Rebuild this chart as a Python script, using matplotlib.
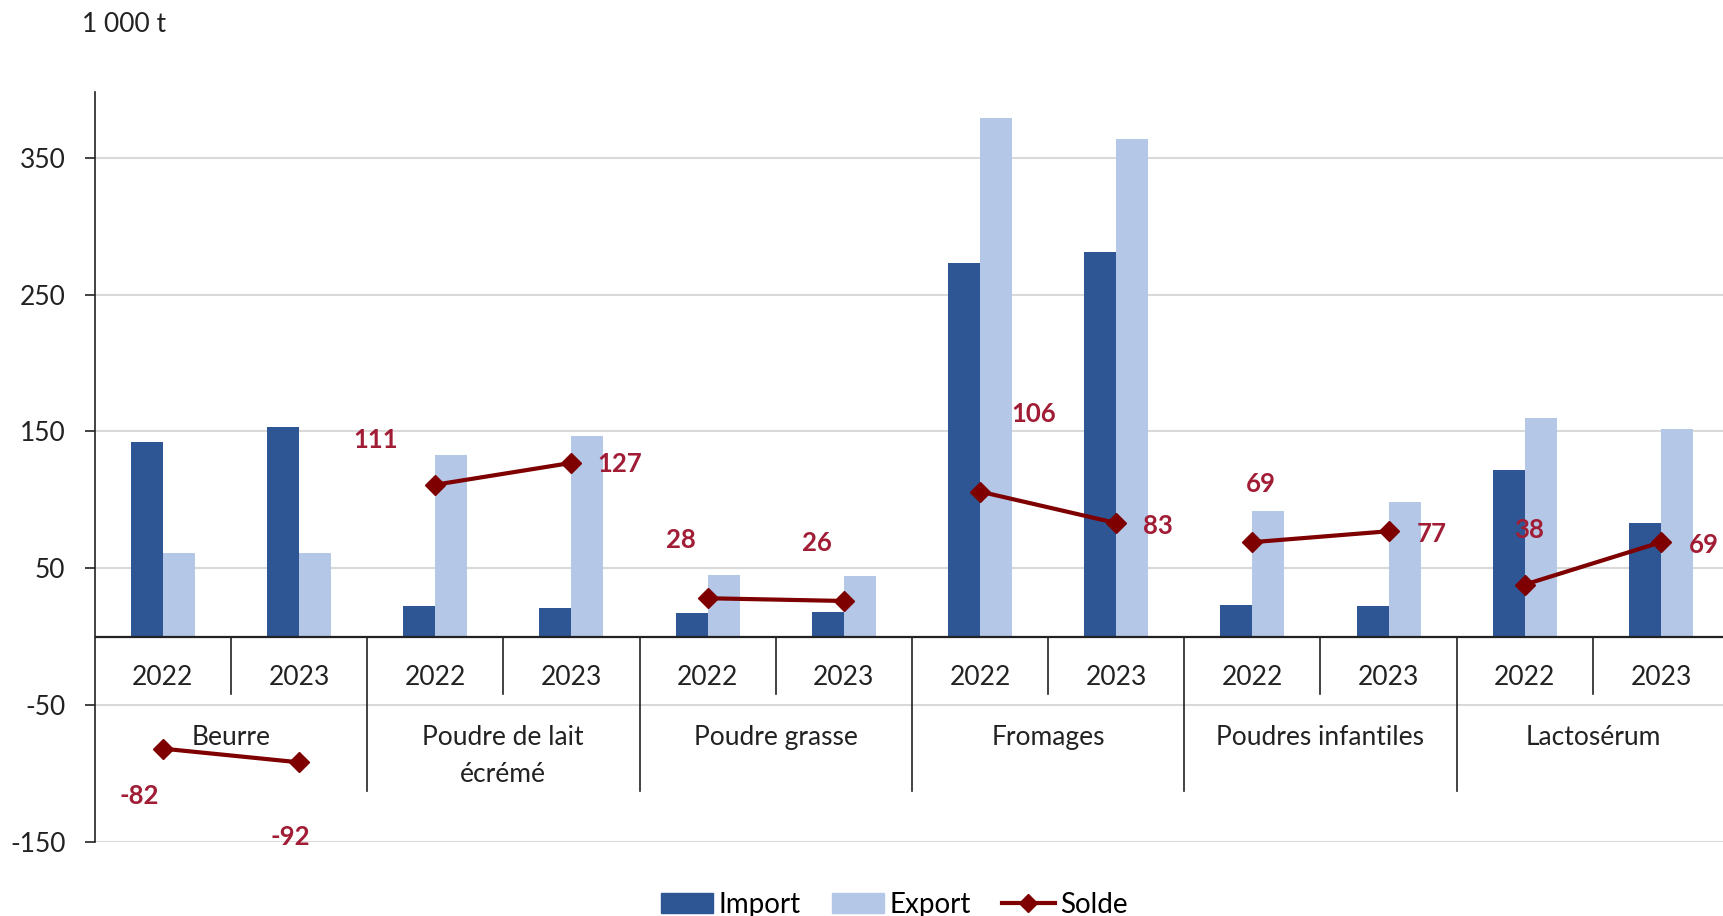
import matplotlib.pyplot as plt
import numpy as np
from matplotlib.patches import Patch
from matplotlib.lines import Line2D

# --------------------------------------------------
# Data (1 000 t)
# --------------------------------------------------
categories = ['Beurre', 'Poudre de lait\nécrémé', 'Poudre grasse',
              'Fromages', 'Poudres infantiles', 'Lactosérum']
years = ['2022', '2023']

imports = [142.5, 153, 22.5, 20.5, 17, 18, 273, 281, 23, 22, 122, 83]
exports = [61, 61, 133, 146.5, 45, 44, 379, 364, 91.5, 98.5, 160, 151.5]
solde   = [-82, -92, 111, 127, 28, 26, 106, 83, 69, 77, 38, 69]

# label offsets for the solde values (points)
label_offsets = [(-17, -34), (-6, -54), (-43, 32), (35, -1),
                 (-19, 42), (-19, 42), (39, 56), (30, -2),
                 (6, 42), (31, -2), (3, 39), (31, -2)]

# --------------------------------------------------
# Colours / fonts
# --------------------------------------------------
c_import = '#2E5594'
c_export = '#B4C7E7'
c_solde = '#7F0000'
c_label = '#A11D36'
grid_col = '#D9D9D9'

plt.rcParams['font.family'] = ['Lato', 'DejaVu Sans']
plt.rcParams['axes.unicode_minus'] = False
fs = 19

# --------------------------------------------------
# Figure setup
# --------------------------------------------------
fig = plt.figure(figsize=(17.23, 9.16), dpi=100)
ax = fig.add_axes([94.7 / 1723, 0.0812, (1729.1 - 94.7) / 1723, 0.818])

x = np.arange(len(imports))
bw = 0.235

ax.bar(x - bw / 2, imports, width=bw, color=c_import, zorder=3)
ax.bar(x + bw / 2, exports, width=bw, color=c_export, zorder=3)

# solde line, one segment per product
for k in range(len(categories)):
    xs = x[2 * k:2 * k + 2]
    ys = solde[2 * k:2 * k + 2]
    ax.plot(xs, ys, color=c_solde, lw=3, marker='D', markersize=10,
            zorder=5, clip_on=False)

for xi, v, off in zip(x, solde, label_offsets):
    ax.annotate(f'{v}', xy=(xi, v), xytext=off, textcoords='offset points',
                ha='center', va='center', color=c_label, fontsize=fs - 0.5,
                fontweight='bold', zorder=6, annotation_clip=False)

# --------------------------------------------------
# Axes, grid
# --------------------------------------------------
ax.set_xlim(-0.5, 11.5)
ax.set_ylim(-150, 398)
ax.set_yticks([-150, -50, 50, 150, 250, 350])
ax.tick_params(axis='y', labelsize=fs, length=7, width=1.2, pad=14,
               colors='#222222')
ax.set_xticks([])
ax.grid(axis='y', color=grid_col, lw=1.5, zorder=0)

for s in ['top', 'right', 'bottom']:
    ax.spines[s].set_visible(False)
ax.spines['left'].set_linewidth(1.2)
ax.spines['left'].set_color('#222222')

ax.axhline(0, color='#222222', lw=1.6, zorder=4)

# --------------------------------------------------
# Category axis drawn below zero
# --------------------------------------------------
for xi in x:
    ax.text(xi, -30, years[xi % 2], ha='center', va='center',
            fontsize=fs, color='#222222')

for k, cat in enumerate(categories):
    ax.text(2 * k + 0.5, -87.5 if '\n' in cat else -73.5, cat,
            ha='center', va='center', fontsize=fs, color='#222222',
            linespacing=1.6)

for k in range(len(categories)):
    ax.plot([2 * k + 0.5] * 2, [0, -42], color='#222222', lw=1.2, zorder=4)
    ax.plot([2 * k + 1.5] * 2, [0, -113], color='#222222', lw=1.2,
            zorder=4, clip_on=False)

# --------------------------------------------------
# Unit label and legend
# --------------------------------------------------
fig.text(82 / 1723, 1 - 24 / 916, '1 000 t', ha='left', va='center',
         fontsize=fs, color='#222222')

handles = [Patch(color=c_import), Patch(color=c_export),
           Line2D([0], [0], color=c_solde, lw=3, marker='D', markersize=9)]
fig.legend(handles, ['Import', 'Export', 'Solde'], loc='center',
           bbox_to_anchor=(0.519, 0.012), ncol=3, frameon=False,
           fontsize=fs + 1, handlelength=1.9, handleheight=0.75,
           handletextpad=0.2, columnspacing=1.1)

fig.savefig('out.png', dpi=100)
